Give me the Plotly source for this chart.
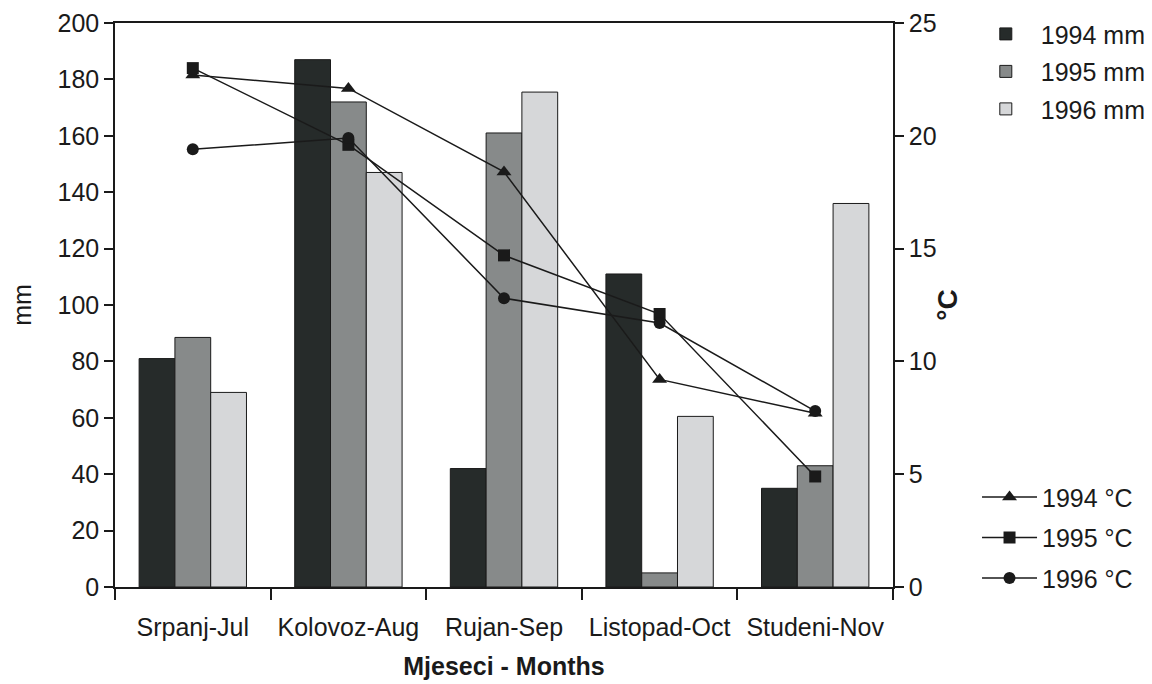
import plotly.graph_objects as go

months = ["Srpanj-Jul", "Kolovoz-Aug", "Rujan-Sep", "Listopad-Oct", "Studeni-Nov"]
rain_1994 = [81, 187, 42, 111, 35]
rain_1995 = [88.5, 172, 161, 5, 43]
rain_1996 = [69, 147, 175.5, 60.5, 136]
temp_1994 = [22.7, 22.1, 18.4, 9.2, 7.7]
temp_1995 = [23.0, 19.6, 14.7, 12.1, 4.9]
temp_1996 = [19.4, 19.9, 12.8, 11.7, 7.8]

FONT = "Liberation Sans, Arial, sans-serif"
FS = 25
fig = go.Figure()
bar_colors = ["#262b2a", "#878a8a", "#d6d7d9"]
for name, vals, col in zip(["1994 mm", "1995 mm", "1996 mm"],
                           [rain_1994, rain_1995, rain_1996], bar_colors):
    fig.add_trace(go.Bar(x=months, y=vals, name=name, marker_color=col,
                         marker_line=dict(color="#1a1a1a", width=1),
                         legend="legend", legendgroup=name))

for name, vals, sym, sz in zip(["1994 °C", "1995 °C", "1996 °C"],
                               [temp_1994, temp_1995, temp_1996],
                               ["triangle-up", "square", "circle"], [13, 12, 12]):
    fig.add_trace(go.Scatter(x=months, y=vals, name=name, yaxis="y2",
                             mode="lines+markers",
                             line=dict(color="#1a1a1a", width=1.5),
                             marker=dict(symbol=sym, size=sz, color="#1a1a1a"),
                             legend="legend2", legendgroup=name))

fig.update_layout(
    width=1152, height=684,
    margin=dict(l=107, r=267, t=15, b=105, autoexpand=False),
    paper_bgcolor="white", plot_bgcolor="white",
    font=dict(family=FONT, size=FS, color="#1a1a1a"),
    barmode="group", bargap=0.31, bargroupgap=0,
    xaxis=dict(showline=True, linecolor="#1a1a1a", linewidth=1.5, mirror=True,
               ticks="outside", ticklen=11, tickcolor="#1a1a1a", tickwidth=1.5,
               tickson="boundaries", showgrid=False, ticklabelstandoff=17,
               title=dict(text="<b>Mjeseci - Months</b>", font=dict(size=FS), standoff=18),
               tickfont=dict(size=FS)),
    yaxis=dict(range=[0, 200], dtick=20, showline=True, linecolor="#1a1a1a",
               linewidth=1.5, ticks="outside", ticklen=9, tickcolor="#1a1a1a",
               tickwidth=1.5, showgrid=False, zeroline=False,
               title=dict(text="mm", font=dict(size=FS), standoff=22),
               tickfont=dict(size=FS)),
    yaxis2=dict(range=[0, 25], dtick=5, overlaying="y", side="right",
                showline=True, linecolor="#1a1a1a", linewidth=1.5,
                ticks="outside", ticklen=9, tickcolor="#1a1a1a", tickwidth=1.5,
                showgrid=False, zeroline=False,
                title=dict(text="<b>°C</b>", font=dict(size=28), standoff=2),
                tickfont=dict(size=FS)),
    legend=dict(x=1.1, y=1.021, xanchor="left", yanchor="top",
                font=dict(size=FS), bgcolor="rgba(0,0,0,0)", itemwidth=60,
                tracegroupgap=2),
    legend2=dict(x=1.108, y=0.2, xanchor="left", yanchor="top",
                 font=dict(size=FS), bgcolor="rgba(0,0,0,0)", itemwidth=55,
                 tracegroupgap=5),
)

fig.write_html("out.html")
